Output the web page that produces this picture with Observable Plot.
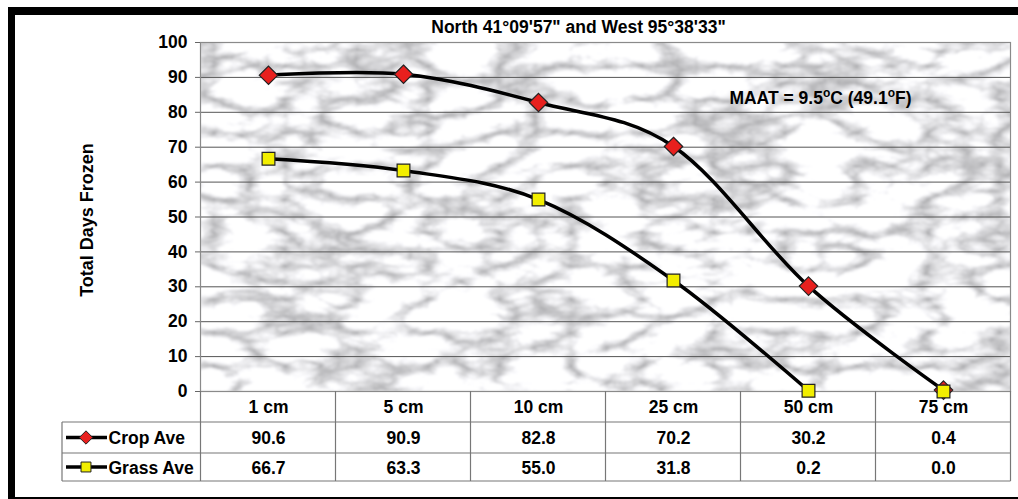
<!DOCTYPE html>
<html>
<head>
<meta charset="utf-8">
<script src="https://cdn.jsdelivr.net/npm/d3@7"></script>
<script src="https://cdn.jsdelivr.net/npm/@observablehq/plot@0.6"></script>
<style>
  html, body { margin: 0; padding: 0; background: #fff; }
  #wrap { position: relative; width: 1018px; height: 499px; overflow: hidden; }
  #chart { position: absolute; left: 0; top: 0; }
  #border { position: absolute; left: 8px; top: 7px; width: 1030px; height: 482px;
            border-top: 8px solid #000; border-left: 7px solid #000; border-bottom: 5px solid #000;
            pointer-events: none; }
</style>
</head>
<body>
<div id="wrap"><div id="chart"></div><div id="border"></div></div>
<script>
const depths = ["1 cm", "5 cm", "10 cm", "25 cm", "50 cm", "75 cm"];
const cropAve = [90.6, 90.9, 82.8, 70.2, 30.2, 0.4];
const grassAve = [66.7, 63.3, 55.0, 31.8, 0.2, 0.0];
const yTicks = [0, 10, 20, 30, 40, 50, 60, 70, 80, 90, 100];
const seriesNames = ["Crop Ave", "Grass Ave"];
const titleText = "North 41°09'57\" and West 95°38'33\"";
const yLabel = "Total Days Frozen";

(function () {
const cropRows = depths.map((d, i) => ({depth: d, value: cropAve[i]}));
const grassRows = depths.map((d, i) => ({depth: d, value: grassAve[i]}));
// in the source the grass line stops at 50 cm; the 75 cm marker stands alone
const grassLineRows = grassRows.slice(0, 5);

const FONT = "Liberation Sans, Arial, sans-serif";
const FS = 17.5;
const cropColor = "#e8201e";
const grassColor = "#f2ee00";

const plot = Plot.plot({
  width: 1018,
  height: 499,
  marginLeft: 200,
  marginRight: 8,
  marginTop: 42,
  marginBottom: 108,
  style: {fontFamily: FONT, background: "transparent", overflow: "visible"},
  x: {type: "point", domain: depths, padding: 0.5, axis: null},
  y: {domain: [0, 100], axis: null},
  marks: [
    Plot.gridY(yTicks, {stroke: "#555", strokeOpacity: 1, strokeWidth: 1}),
    Plot.frame({stroke: "#8a8a8a", strokeWidth: 1.2}),
    Plot.axisY(yTicks, {tickSize: 5, tickPadding: 8, fontSize: FS, fontWeight: "bold", stroke: "#666", fill: "#000", label: null}),
    Plot.text([yLabel], {frameAnchor: "left", dx: -113, dy: 3, rotate: -90, textAnchor: "middle", lineAnchor: "middle", fontSize: 18, fontWeight: "bold", fill: "#000"}),
    Plot.text([titleText], {frameAnchor: "top", dx: -27, dy: -15, lineAnchor: "middle", fontSize: FS, fontWeight: "bold", fill: "#000"}),
    Plot.text(["MAAT = 9.5oC (49.1oF)"], {frameAnchor: "top-right", dx: -99, dy: 56, textAnchor: "end", lineAnchor: "middle", fontSize: FS, fontWeight: "bold", fill: "#000", className: "maat"}),
    Plot.line(cropRows, {x: "depth", y: "value", curve: "cardinal", stroke: "#000", strokeWidth: 3.5}),
    Plot.line(grassLineRows, {x: "depth", y: "value", curve: "cardinal", stroke: "#000", strokeWidth: 3.5}),
    Plot.dot(cropRows, {x: "depth", y: "value", symbol: "diamond2", r: 8.3, fill: cropColor, stroke: "#222", strokeWidth: 1.2}),
    Plot.dot(grassRows, {x: "depth", y: "value", symbol: "square", r: 7.2, fill: grassColor, stroke: "#222", strokeWidth: 1.2}),
    Plot.text(depths, {x: d => d, text: d => d, frameAnchor: "bottom", dy: 16, lineAnchor: "middle", fontSize: FS, fontWeight: "bold", fill: "#000"}),
    Plot.text(cropRows, {x: "depth", text: d => d.value.toFixed(1), frameAnchor: "bottom", dy: 47, lineAnchor: "middle", fontSize: FS, fontWeight: "bold", fill: "#000"}),
    Plot.text(grassRows, {x: "depth", text: d => d.value.toFixed(1), frameAnchor: "bottom", dy: 76.5, lineAnchor: "middle", fontSize: FS, fontWeight: "bold", fill: "#000"}),
    Plot.text([seriesNames[0]], {frameAnchor: "bottom-left", dx: -92, dy: 47, textAnchor: "start", lineAnchor: "middle", fontSize: FS, fontWeight: "bold", fill: "#000"}),
    Plot.text([seriesNames[1]], {frameAnchor: "bottom-left", dx: -92, dy: 76.5, textAnchor: "start", lineAnchor: "middle", fontSize: FS, fontWeight: "bold", fill: "#000"})
  ]
});

document.getElementById("chart").appendChild(plot);

const svg = d3.select(plot);
const xs = plot.scale("x");
const ys = plot.scale("y");
const step = xs.apply(depths[1]) - xs.apply(depths[0]);
const fLeft = xs.apply(depths[0]) - step / 2;
const fRight = xs.apply(depths[depths.length - 1]) + step / 2;
const fTop = ys.apply(100);
const fBottom = ys.apply(0);

// marble-like texture behind the plot area
const defs = svg.insert("defs", ":first-child");
const f = defs.append("filter").attr("id", "marbleF").attr("x", 0).attr("y", 0).attr("width", "100%").attr("height", "100%")
  .attr("color-interpolation-filters", "sRGB");
f.append("feTurbulence").attr("type", "turbulence").attr("baseFrequency", "0.014 0.03").attr("numOctaves", 5).attr("seed", 11).attr("result", "t");
f.append("feColorMatrix").attr("type", "matrix")
  .attr("values", "0.9 0 0 0 0.66  0.9 0 0 0 0.66  0.9 0 0 0 0.67  0 0 0 0 1");
f.append("feGaussianBlur").attr("stdDeviation", 0.8);
const bgG = svg.insert("g", "defs + *");
bgG.append("rect").attr("x", fLeft).attr("y", fTop).attr("width", fRight - fLeft).attr("height", fBottom - fTop)
  .attr("fill", "#e6e6e6");
bgG.append("rect").attr("x", fLeft).attr("y", fTop).attr("width", fRight - fLeft).attr("height", fBottom - fTop)
  .attr("filter", "url(#marbleF)");

// data-table grid
const rowH = [fBottom, fBottom + 31, fBottom + 62, fBottom + 90];
const tableLeft = 62;
const g = svg.append("g").attr("stroke", "#777").attr("stroke-width", 1.2).attr("fill", "none");
depths.forEach((d) => {
  const xe = xs.apply(d) - step / 2;
  g.append("line").attr("x1", xe).attr("x2", xe).attr("y1", rowH[0]).attr("y2", rowH[3]);
});
g.append("line").attr("x1", fRight).attr("x2", fRight).attr("y1", rowH[0]).attr("y2", rowH[3]);
g.append("line").attr("x1", tableLeft).attr("x2", tableLeft).attr("y1", rowH[1]).attr("y2", rowH[3]);
[rowH[1], rowH[2], rowH[3]].forEach(yy => {
  g.append("line").attr("x1", tableLeft).attr("x2", fRight).attr("y1", yy).attr("y2", yy);
});

// legend keys inside the table
const keys = [
  {y: (rowH[1] + rowH[2]) / 2, sym: d3.symbolDiamond2, size: Math.PI * 6 * 6, fill: cropColor},
  {y: (rowH[2] + rowH[3]) / 2, sym: d3.symbolSquare, size: Math.PI * 5.6 * 5.6, fill: grassColor}
];
keys.forEach(k => {
  svg.append("line").attr("x1", 66).attr("x2", 107).attr("y1", k.y).attr("y2", k.y).attr("stroke", "#000").attr("stroke-width", 3.5);
  svg.append("path").attr("d", d3.symbol(k.sym, k.size)()).attr("transform", `translate(86,${k.y})`)
    .attr("fill", k.fill).attr("stroke", "#222").attr("stroke-width", 1);
});

// superscript "o" in the MAAT annotation
svg.selectAll(".maat text").each(function() {
  const t = d3.select(this);
  t.text(null);
  const parts = [["MAAT = 9.5", false], ["o", true], ["C (49.1", false], ["o", true], ["F)", false]];
  parts.forEach(([s, sup]) => {
    const ts = t.append("tspan").text(s);
    if (sup) ts.attr("baseline-shift", "super").attr("font-size", 12);
  });
});
})();
</script>
</body>
</html>
